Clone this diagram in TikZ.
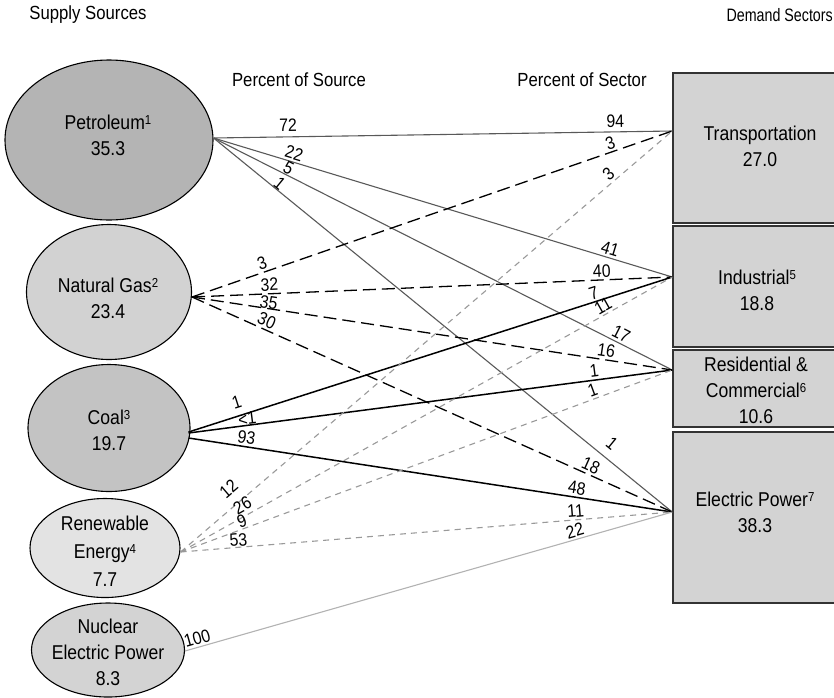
\documentclass[tikz,border=0pt]{standalone}
\usepackage{fontspec}
\setmainfont{Liberation Sans}[FakeStretch=0.88]
\usetikzlibrary{shapes.geometric,calc}
\definecolor{petgray}{HTML}{B4B4B4}
\definecolor{gasgray}{HTML}{D2D2D2}
\definecolor{coalgray}{HTML}{C3C3C3}
\definecolor{rengray}{HTML}{E3E3E3}
\definecolor{nucgray}{HTML}{D3D3D3}
\definecolor{boxgray}{HTML}{D3D3D3}
\definecolor{boxedge}{HTML}{333333}
\newcommand\supr[1]{\raisebox{5pt}{\fontsize{13}{13}\selectfont #1}}
\tikzset{
 srcshape/.style={ellipse, draw=black, line width=1.1pt, inner sep=0pt},
 sectbox/.style={rectangle, draw=boxedge, line width=1.5pt, fill=boxgray, minimum width=174pt, inner sep=0pt},
 ntext/.style={align=center, inner sep=0pt, font=\fontsize{20}{26}\selectfont},
 lbl/.style={font=\fontsize{18}{18}\selectfont, inner sep=2pt, sloped, above},
 hdr/.style={font=\fontsize{19}{22}\selectfont, inner sep=0pt},
 petline/.style={draw=black!65, line width=1.1pt},
 gasline/.style={draw=black, line width=1.3pt, dash pattern=on 13pt off 6pt},
 coalline/.style={draw=black, line width=1.5pt},
 renline/.style={draw=black!40, line width=1.1pt, dash pattern=on 6pt off 5pt},
 nucline/.style={draw=black!30, line width=1.1pt}
}
\begin{document}
\begin{tikzpicture}[x=1pt,y=-1pt]
\useasboundingbox (0,0) rectangle (834,697);
\clip (0,0) rectangle (834,697);
% headers
\node[hdr] (hsupply) at (88,15) {Supply Sources};
\node[hdr, anchor=east] (hdemand) at (833,15) {\scalebox{0.9}[1]{\fontsize{18}{20}\selectfont Demand Sectors}};
\node[hdr] (hsource) at (299,80) {Percent of Source};
\node[hdr] (hsector) at (582,80) {Percent of Sector};
% sources
\node[srcshape, fill=petgray, minimum width=208pt, minimum height=160pt] (pet) at (109,140) {};
\node[srcshape, fill=gasgray, minimum width=165pt, minimum height=135pt] (gas) at (109,292) {};
\node[srcshape, fill=coalgray, minimum width=162pt, minimum height=127pt] (coal) at (109,428) {};
\node[srcshape, fill=rengray, minimum width=150pt, minimum height=99pt] (ren) at (105,548) {};
\node[srcshape, fill=nucgray, minimum width=153pt, minimum height=94pt] (nuc) at (108,650) {};
\node[ntext] (petT) at (108,135) {Petroleum\supr{1}\\35.3};
\node[ntext] (gasT) at (108,298) {Natural Gas\supr{2}\\23.4};
\node[ntext] (coalT) at (109,430) {Coal\supr{3}\\19.7};
\node[ntext, font=\fontsize{20}{28}\selectfont] (renT) at (105,551) {Renewable\\Energy\supr{4}\\7.7};
\node[ntext] (nucT) at (108,652) {Nuclear\\Electric Power\\8.3};
% sectors
\node[sectbox, minimum height=150pt] (trans) at (760,148) {};
\node[sectbox, minimum height=121pt] (ind) at (760,286.5) {};
\node[sectbox, minimum height=77pt] (res) at (760,388.5) {};
\node[sectbox, minimum height=171pt] (elec) at (760,517.5) {};
\node[ntext] (transT) at (760,146.5) {Transportation\\27.0};
\node[ntext] (indT) at (757,290.5) {Industrial\supr{5}\\18.8};
\node[ntext] (resT) at (756,390) {Residential \&\\Commercial\supr{6}\\10.6};
\node[ntext] (elecT) at (755,512.5) {Electric Power\supr{7}\\38.3};
% petroleum
\draw[petline] ([yshift=2pt]pet.east) -- ([yshift=17pt]trans.west) node[lbl,pos=.163,above=3pt]{72} node[lbl,pos=.876,above=2pt]{94};
\draw[petline] ([yshift=2pt]pet.east) -- ([yshift=9.5pt]ind.west) node[lbl,pos=.17]{22} node[lbl,pos=.859]{41};
\draw[petline] ([yshift=2pt]pet.east) -- ([yshift=18.5pt]res.west) node[lbl,pos=.157,above=-2pt]{5} node[lbl,pos=.88]{17};
\draw[petline] ([yshift=2pt]pet.east) -- ([yshift=5.5pt]elec.west) node[lbl,pos=.135,above=-2pt]{1} node[lbl,pos=.848,above=6pt]{1};
% natural gas
\draw[gasline] ([yshift=-5pt]gas.east) -- ([yshift=17pt]trans.west) node[lbl,pos=.152]{3} node[lbl,pos=.877]{3};
\draw[gasline] ([yshift=-5pt]gas.east) -- ([yshift=9.5pt]ind.west) node[lbl,pos=.162]{32} node[lbl,pos=.854]{40};
\draw[gasline] ([yshift=-5pt]gas.east) -- ([yshift=18.5pt]res.west) node[lbl,pos=.158,above=-3pt]{35} node[lbl,pos=.86]{16};
\draw[gasline] ([yshift=-5pt]gas.east) -- ([yshift=5.5pt]elec.west) node[lbl,pos=.148]{30} node[lbl,pos=.823]{18};
% coal
\draw[coalline] ([xshift=-2pt,yshift=-4pt]coal.east) -- ([yshift=9.5pt]ind.west) node[lbl,pos=.108,above=4.5pt]{1} node[lbl,pos=.843]{7};
\draw[coalline] ([xshift=-2pt,yshift=-5pt]coal.east) -- ([yshift=18.5pt]res.west) node[lbl,pos=.123,above=-2.5pt]{<1} node[lbl,pos=.841]{1};
\draw[coalline] ([xshift=-2pt,yshift=-10pt]coal.east) -- ([yshift=5.5pt]elec.west) node[lbl,pos=.117]{93} node[lbl,pos=.80]{48};
% renewable
\draw[renline] ([yshift=-4pt]ren.east) -- ([yshift=17pt]trans.west) node[lbl,pos=.12,above=8pt]{12} node[lbl,pos=.882]{3};
\draw[renline] ([yshift=-4pt]ren.east) -- ([yshift=9.5pt]ind.west) node[lbl,pos=.136,above=1.5pt]{26} node[lbl,pos=.868]{11};
\draw[renline] ([yshift=-4pt]ren.east) -- ([yshift=18.5pt]res.west) node[lbl,pos=.13,above=-1.5pt]{9} node[lbl,pos=.844]{1};
\draw[renline] ([yshift=-4pt]ren.east) -- ([yshift=5.5pt]elec.west) node[lbl,pos=.119,above=-1.5pt]{53} node[lbl,pos=.805]{11};
% nuclear
\draw[nucline] ([yshift=-1pt]nuc.east) -- ([yshift=5.5pt]elec.west) node[lbl,pos=.03]{100} node[lbl,pos=.805]{22};
\end{tikzpicture}
\end{document}
